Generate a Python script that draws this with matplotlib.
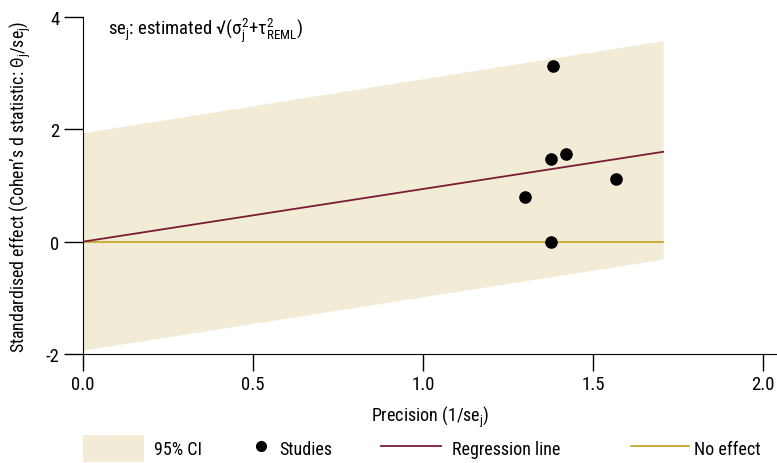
import matplotlib
matplotlib.use("Agg")
import matplotlib.pyplot as plt
from matplotlib.patches import Patch
from matplotlib.lines import Line2D

FONT = 'Roboto Condensed'
plt.rcParams['font.family'] = [FONT, 'DejaVu Sans']
plt.rcParams['mathtext.fontset'] = 'custom'
plt.rcParams['mathtext.rm'] = FONT
plt.rcParams['mathtext.it'] = FONT
plt.rcParams['mathtext.bf'] = FONT
plt.rcParams['axes.unicode_minus'] = False

# Data
precision = [1.382, 1.376, 1.42, 1.568, 1.30, 1.376]
std_effect = [3.13, 1.48, 1.56, 1.12, 0.80, 0.0]
line_x = [0.0, 1.706]
regression_y = [0.0, 1.60]
ci_lower = [-1.93, -0.31]
ci_upper = [1.94, 3.58]
no_effect_y = [0.0, 0.0]
xticks = [0.0, 0.5, 1.0, 1.5, 2.0]
yticks = [-2, 0, 2, 4]
legend_labels = ['95% CI', 'Studies', 'Regression line', 'No effect']

band_col = '#F2EBD6'
reg_col = '#7B1C35'
noeff_col = '#C8A92A'

W, H = 777, 464
fig = plt.figure(figsize=(W/100, H/100), dpi=100)
ax = fig.add_axes([83/W, 1-355/H, 1-83/W, (355-18)/H])

ax.fill_between(line_x, ci_lower, ci_upper, color=band_col, lw=0, zorder=1)
ax.plot(line_x, no_effect_y, color=noeff_col, lw=1.3, zorder=2)
ax.plot(line_x, regression_y, color=reg_col, lw=1.3, zorder=3)
ax.scatter(precision, std_effect, s=65, color='black', zorder=4, clip_on=False)

ax.set_xlim(0, 2.041)
ax.set_ylim(-2, 4)
ax.set_xticks(xticks)
ax.set_xticklabels([f"{v:.1f}" for v in xticks])
ax.set_yticks(yticks)
ax.set_yticklabels([str(v) for v in yticks])
ax.spines['top'].set_visible(False)
ax.spines['right'].set_visible(False)
ax.tick_params(axis='x', direction='out', length=12, width=1, labelsize=13.5, pad=3)
ax.tick_params(axis='y', direction='out', length=14, width=1, labelsize=13.5, pad=3)

ax.set_xlabel('Precision (1/se$_\\mathregular{j}$)', fontsize=13, labelpad=8)
ax.set_ylabel('Standardised effect (Cohen\u2019s d statistic: \u0398$_\\mathregular{j}$/se$_\\mathregular{j}$)',
              fontsize=12.8, labelpad=9)

ax.text(25/694, (355-31)/337,
        'se$_\\mathregular{j}$: estimated \u221a(\u03c3$_\\mathregular{j}^\\mathregular{2}$+\u03c4$^\\mathregular{2}_\\mathregular{REML}$)',
        transform=ax.transAxes, fontsize=13.5, va='center', ha='left')

handles = [Patch(facecolor=band_col, edgecolor='none'),
           Line2D([], [], marker='o', color='black', ls='none', markersize=7),
           Line2D([], [], color=reg_col, lw=1.3),
           Line2D([], [], color=noeff_col, lw=1.3)]
# per-entry legend placement (left px, handlelength, handleheight, handletextpad)
slots = [(83, 3.38, 2.0, 0.58), (251.6, 1.0, 1.6, 0.51), (380.7, 3.32, 1.6, 0.65), (630.5, 3.24, 1.6, 0.25)]
ycen = 1 - 449.5/H
for h, lab, (xl, hl, hh, tp) in zip(handles, legend_labels, slots):
    fig.legend([h], [lab], loc='center left', bbox_to_anchor=(xl/W, ycen),
               frameon=False, fontsize=13, handlelength=hl, handleheight=hh,
               handletextpad=tp, borderaxespad=0, borderpad=0)

fig.savefig('out.png', dpi=100)
